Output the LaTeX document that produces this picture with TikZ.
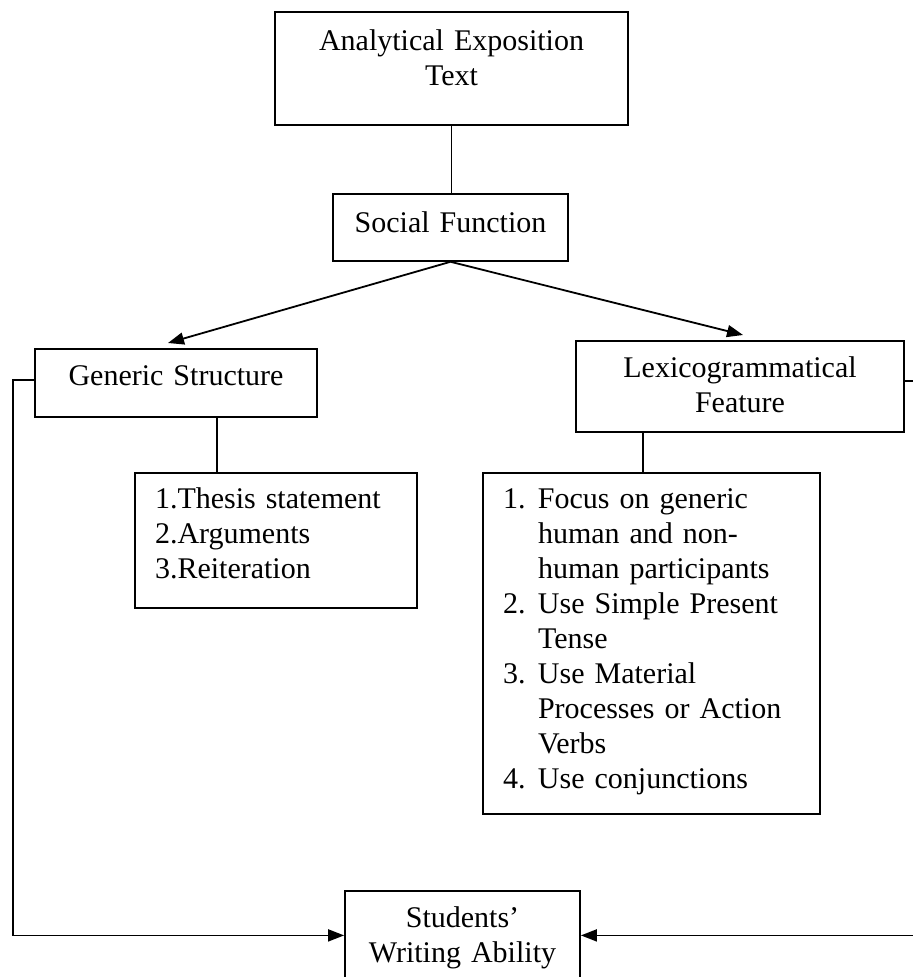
\documentclass[tikz,border=0pt]{standalone}
\usepackage{fontspec}
\setmainfont{Liberation Serif}
\usetikzlibrary{arrows.meta}
\newcommand{\lnum}[1]{\makebox[17.5pt][l]{#1}}
\newcommand{\lind}{\hspace*{17.5pt}}

\begin{document}
\begin{tikzpicture}[x=0.5pt, y=-0.5pt,
  box/.style={draw, line width=0.9pt, inner xsep=0pt, inner ysep=0pt, anchor=north,
              align=center, font=\fontsize{15}{17.5}\selectfont},
  listbox/.style={box, align=left, inner xsep=10pt},
  link/.style={line width=0.9pt},
  arr/.style={link, -{Triangle[length=8pt, width=6pt]}}]
  \useasboundingbox (0,0) rectangle (912,977);
  \node[box, text width=176.5pt, text height=19.5pt, text depth=37pt] (aet) at (451.5,11) {Analytical Exposition\\Text};
  \node[box, text width=117.5pt, text height=19.5pt, text depth=14pt] (social) at (450.5,193) {Social Function};
  \node[box, text width=141pt, text height=18.5pt, text depth=15.5pt] (generic) at (176,348) {Generic Structure};
  \node[box, text width=164pt, text height=18.5pt, text depth=27pt] (lexico) at (740,340) {Lexicogrammatical\\Feature};
  \node[listbox, text width=121pt, text height=18pt, text depth=49.5pt] (thesis) at (276,472)
    {1.Thesis statement\\2.Arguments\\3.Reiteration};
  \node[listbox, text width=148.5pt, text height=18pt, text depth=152.5pt] (features) at (651.5,472)
    {\lnum{1.}Focus on generic\\\lind human and non-\\\lind human participants\\
     \lnum{2.}Use Simple Present\\\lind Tense\\
     \lnum{3.}Use Material\\\lind Processes or Action\\\lind Verbs\\
     \lnum{4.}Use conjunctions};
  \node[box, text width=117.5pt, text height=18.5pt, text depth=26pt] (ability) at (462.5,890) {Students'\\Writing Ability};
  % links
  \draw[link] (aet.south) -- (aet.south |- social.north);
  \draw[arr] (social.south) -- ([shift={(-8,-5)}]generic.north);
  \draw[arr] (social.south) -- ([shift={(3,-5)}]lexico.north);
  \draw[link] ([shift={(41,0)}]generic.south) -- ([shift={(41,0)}]generic.south |- thesis.north);
  \draw[link] ([shift={(-97,0)}]lexico.south) -- ([shift={(-97,0)}]lexico.south |- features.north);
  \draw[arr] ([shift={(0,-3)}]generic.west) -- ++(-21,0) |- (ability.west);
  \draw[arr] ([shift={(0,-5)}]lexico.east) -- ++(21,0) |- (ability.east);
\end{tikzpicture}
\end{document}
